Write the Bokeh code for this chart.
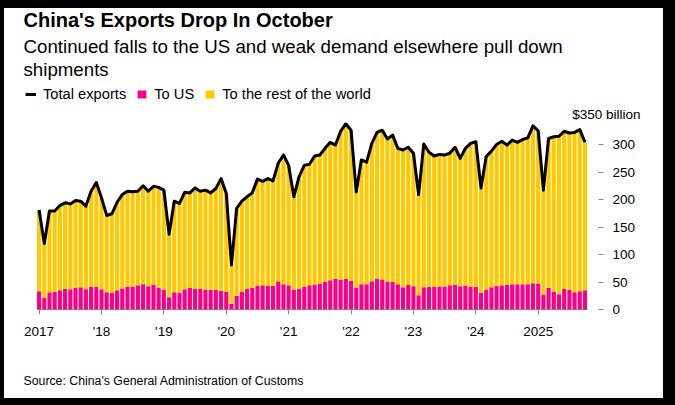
from bokeh.plotting import figure
from bokeh.layouts import column
from bokeh.models import (ColumnDataSource, Range1d, FixedTicker, Label, Legend,
                          LegendItem, GlobalInlineStyleSheet)
from bokeh.embed import file_html
from bokeh.resources import INLINE

# monthly exports, Jan 2017 - Oct 2025, $ billion
year_labels = ["2017", "'18", "'19", "'20", "'21", "'22", "'23", "'24", "2025"]

total_exports = [
    181, 120, 179, 179, 189, 194, 192, 198, 197, 188, 215, 231,   # 2017
    203, 171, 174, 195, 209, 215, 214, 215, 225, 215, 224, 222,   # 2018
    217, 137, 197, 193, 213, 212, 221, 215, 217, 212, 220, 238,   # 2019
    211, 81, 184, 197, 205, 212, 237, 233, 238, 234, 266, 281,    # 2020
    262, 205, 241, 262, 264, 279, 281, 293, 304, 299, 324, 338,   # 2021
    326, 214, 272, 268, 302, 322, 326, 310, 317, 293, 290, 295,   # 2022
    284, 209, 301, 286, 279, 282, 281, 284, 295, 275, 293, 302,   # 2023
    305, 221, 278, 288, 300, 306, 299, 308, 304, 309, 312, 334,   # 2024
    325, 217, 311, 314, 315, 324, 321, 322, 327, 304,             # 2025
]

to_us = [
    33, 21, 31.5, 32, 35, 37.5, 37, 39, 40.5, 37, 41, 41,
    37, 31.5, 30, 35, 38, 42, 41, 44, 46, 42.5, 45.5, 40,
    36, 22.5, 31.5, 31, 37, 39, 38, 37.5, 36.5, 36, 36, 34,
    32, 10, 25, 32, 37.5, 39, 43, 44, 43, 43, 51.5, 46,
    44, 36, 38, 41, 44, 45.5, 47, 50, 53, 56, 54, 55.5,
    52, 39, 46, 46, 51.5, 55.5, 54.5, 50, 50, 46, 40.5, 44.8,
    42.4, 26, 40.6, 41, 41, 41.8, 41.8, 44, 44.8, 42.4, 43.6, 41.8,
    41.2, 30, 36.4, 40.6, 43, 44, 44.8, 46, 46, 46, 46, 47.9,
    47.3, 27.3, 39.4, 32.7, 27.9, 37.6, 35.8, 31.5, 33.3, 35.2,
]

rest_of_world = [t - u for t, u in zip(total_exports, to_us)]
months = list(range(len(total_exports)))

PINK = "#fb0087"
YELLOW = "#ffc800"
FONT = "Liberation Sans"
W = 659
NAN = float("nan")


def text_panel(height):
    # blank figure whose frame is the whole canvas, 1 data unit = 1 px
    f = figure(width=W, height=height, title=None, output_backend="svg",
               toolbar_location=None, x_axis_type=None, y_axis_type=None,
               x_range=Range1d(0, W), y_range=Range1d(0, height), min_border=0)
    f.outline_line_color = None
    f.frame_align = False
    return f


def note(f, text, x, y, size, bold=False, align="left"):
    f.add_layout(Label(x=x, y=y, text=text, text_font=FONT, text_font_size=size,
                       text_color="black", text_align=align,
                       text_baseline="alphabetic",
                       text_font_style="bold" if bold else "normal"))


# header: title, subtitle, legend, unit label
head = text_panel(114)
note(head, "China's Exports Drop In October", 19, 102.5, "20px", bold=True)
note(head, "Continued falls to the US and weak demand elsewhere pull down", 19, 76, "18.7px")
note(head, "shipments", 19, 53.5, "18.7px")
note(head, "$350 billion", 636, 8, "13.5px", align="right")

# legend keys only (no visible points)
key_line = head.line(x=[NAN], y=[NAN], line_color="black", line_width=3)
key_us = head.vbar(x=[NAN], top=[NAN], width=1, color=PINK, line_color=None)
key_rest = head.vbar(x=[NAN], top=[NAN], width=1, color=YELLOW, line_color=None)
legend = Legend(items=[
    LegendItem(label="Total exports", renderers=[key_line]),
    LegendItem(label="To US", renderers=[key_us]),
    LegendItem(label="To the rest of the world", renderers=[key_rest]),
], orientation="horizontal", location=(21, 20.5), padding=0, margin=0,
    spacing=10, label_standoff=7, glyph_width=11, glyph_height=10,
    label_height=14, label_text_font=FONT, label_text_font_size="14.7px",
    label_text_color="black", border_line_color=None, background_fill_alpha=0)
head.add_layout(legend)

# main chart
src = ColumnDataSource(data=dict(x=months, us=to_us, rest=rest_of_world,
                                 total=total_exports))

p = figure(width=W, height=223, title=None, output_backend="svg",
           toolbar_location=None,
           x_range=Range1d(-0.5, 107.6), y_range=Range1d(0, 340),
           y_axis_location="right",
           min_border_left=32, min_border_right=65,
           min_border_top=0, min_border_bottom=36)
p.frame_align = False
p.outline_line_color = None
p.xgrid.visible = False
p.ygrid.visible = False

p.vbar_stack(["us", "rest"], x="x", width=0.8, color=[PINK, YELLOW],
             line_color=None, source=src)
p.segment(x0=[months[0] - 0.5], x1=[months[-1] + 0.5], y0=[0], y1=[0],
          line_color="#222222", line_width=1.2)
p.line("x", "total", source=src, line_color="black", line_width=3,
       line_join="round")

p.xaxis.ticker = FixedTicker(ticks=[12 * i for i in range(len(year_labels))])
p.xaxis.major_label_overrides = {12 * i: s for i, s in enumerate(year_labels)}
p.yaxis.ticker = FixedTicker(ticks=[0, 50, 100, 150, 200, 250, 300])
for ax in (p.xaxis, p.yaxis):
    ax.axis_line_color = None
    ax.major_tick_line_color = "#8a8a8a"
    ax.major_tick_in = 0
    ax.major_tick_out = 5
    ax.minor_tick_line_color = None
    ax.major_label_text_font = FONT
    ax.major_label_text_font_size = "13.5px"
    ax.major_label_text_color = "black"
p.xaxis.major_label_standoff = 9
p.yaxis.major_label_standoff = 9

# footer
foot = text_panel(53)
note(foot, "Source: China's General Administration of Customs", 19, 17.5, "12.3px")

page = column(head, p, foot, spacing=0)
page.stylesheets = [GlobalInlineStyleSheet(css="body{background:#000;}")]
page.styles = {"margin-left": "4px", "margin-top": "8px",
               "background-color": "white"}

open("out.html", "w").write(file_html(page, INLINE))
